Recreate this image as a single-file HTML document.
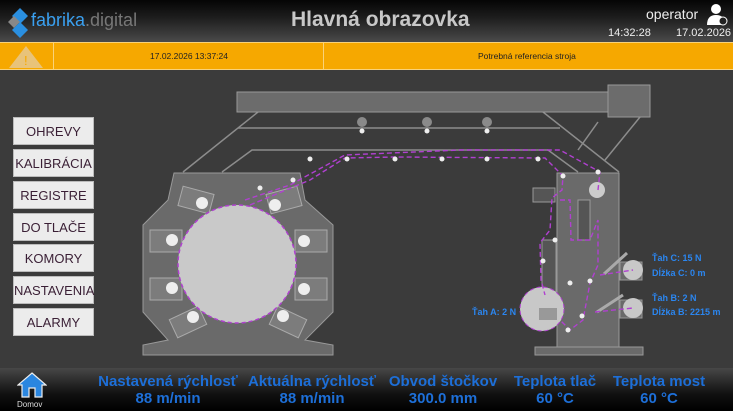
<!DOCTYPE html>
<html><head><meta charset="utf-8"><style>
*{margin:0;padding:0;box-sizing:border-box}
body{width:733px;height:411px;overflow:hidden;background:#3b3b3b;font-family:"Liberation Sans",sans-serif;position:relative}
.top{position:absolute;left:0;top:0;width:733px;height:42px;background:linear-gradient(#050505,#1c1c1c 40%,#4a4a4a)}
.alarm{position:absolute;left:0;top:42px;width:733px;height:28px;background:#f6a800;border-top:1px solid #f9d27a;border-bottom:1px solid #f9d27a}
.btn{position:absolute;left:13px;width:81px;height:28px;background:#ececec;border:1px solid #bbb;color:#3a1f35;font-size:13px;text-align:center;line-height:27px;font-family:"Liberation Sans Narrow","Liberation Sans",sans-serif}
.foot{position:absolute;left:0;top:368px;width:733px;height:43px;background:linear-gradient(#474747,#111 60%,#000)}
.fl{position:absolute;color:#1d6fd8;font-weight:bold;font-size:15px;text-align:center;width:140px;line-height:17px;font-family:"Liberation Sans Narrow","Liberation Sans",sans-serif}
.lb{position:absolute;color:#2b86f0;font-weight:bold;font-size:9px}
</style></head><body>
<div class="top"></div>
<svg style="position:absolute;left:8px;top:8px" width="24" height="30"><polygon points="12,0 20,8 12,16 4,8" fill="#2a8fe0"/><polygon points="6,8 12,14 6,20 0,14" fill="#888"/><polygon points="12,14 20,22 12,30 4,22" fill="#2a8fe0"/></svg>
<div style="position:absolute;left:31px;top:10px;font-size:18px;color:#3aa0f0">fabrika<span style="color:#777">.digital</span></div>
<div style="position:absolute;left:291px;top:8px;font-size:21px;font-weight:bold;color:#c8c8c8;font-family:'Liberation Sans Narrow','Liberation Sans',sans-serif">Hlavná obrazovka</div>
<div style="position:absolute;left:646px;top:6px;font-size:14px;color:#eee;font-family:'Liberation Sans Narrow','Liberation Sans',sans-serif">operator</div>
<svg style="position:absolute;left:706px;top:3px" width="22" height="24"><circle cx="10" cy="6" r="5" fill="#fff"/><path d="M1 22 Q1 12 10 12 Q19 12 19 22Z" fill="#fff"/><circle cx="17" cy="18" r="4" fill="#222" stroke="#fff"/></svg>
<div style="position:absolute;left:608px;top:27px;font-size:11px;color:#eee">14:32:28</div>
<div style="position:absolute;left:676px;top:27px;font-size:11px;color:#eee">17.02.2026</div>
<div class="alarm"></div>
<div style="position:absolute;left:53px;top:43px;width:1px;height:27px;background:#f9d27a"></div>
<div style="position:absolute;left:323px;top:43px;width:1px;height:27px;background:#f9d27a"></div>
<svg style="position:absolute;left:8px;top:45px" width="36" height="24"><polygon points="18,1 35,23 1,23" fill="#e8c37a"/><text x="16" y="20" font-size="13" fill="#f6a800" font-family="Liberation Sans">!</text></svg>
<div style="position:absolute;left:150px;top:51px;font-size:8.5px;color:#222">17.02.2026 13:37:24</div>
<div style="position:absolute;left:478px;top:51px;font-size:8.5px;color:#222">Potrebná referencia stroja</div>
<div class="btn" style="top:117px">OHREVY</div>
<div class="btn" style="top:149px">KALIBRÁCIA</div>
<div class="btn" style="top:181px">REGISTRE</div>
<div class="btn" style="top:213px">DO TLAČE</div>
<div class="btn" style="top:244px">KOMORY</div>
<div class="btn" style="top:276px">NASTAVENIA</div>
<div class="btn" style="top:308px">ALARMY</div>
<svg style="position:absolute;left:0;top:0" width="733" height="411">
<g fill="none" stroke="#8c8c8c" stroke-width="1.5">
<polyline points="258,112 183,172"/><polyline points="238,128 560,128"/><polyline points="543,112 619,172"/>
<polyline points="222,172 252,150 548,150 578,172"/>
<line x1="578" y1="150" x2="598" y2="122"/><line x1="605" y1="160" x2="640" y2="117"/>
</g>
<rect x="237" y="92" width="372" height="20" fill="#6c6c6c" stroke="#999"/>
<rect x="608" y="85" width="42" height="32" fill="#6c6c6c" stroke="#999"/>
<g fill="#8a8a8a"><circle cx="362" cy="122" r="5"/><circle cx="427" cy="122" r="5"/><circle cx="487" cy="122" r="5"/></g>
<polygon points="174,173 300,173 305,200 333,225 333,312 305,340 333,345 333,355 143,355 143,345 168,340 143,312 143,225 168,200" fill="#6a6a6a" stroke="#999"/>
<g fill="#7c7c7c" stroke="#aaa"><rect x="180" y="190" width="32" height="20" transform="rotate(15 196 200)"/><rect x="268" y="190" width="32" height="20" transform="rotate(-15 284 200)"/><rect x="150" y="230" width="32" height="22"/><rect x="295" y="230" width="32" height="22"/><rect x="150" y="278" width="32" height="22"/><rect x="295" y="278" width="32" height="22"/><rect x="172" y="312" width="32" height="20" transform="rotate(-25 188 322)"/><rect x="272" y="312" width="32" height="20" transform="rotate(25 288 322)"/></g>
<g fill="#eee"><circle cx="202" cy="203" r="6"/><circle cx="275" cy="205" r="6"/><circle cx="172" cy="240" r="6"/><circle cx="304" cy="241" r="6"/><circle cx="172" cy="288" r="6"/><circle cx="304" cy="289" r="6"/><circle cx="193" cy="317" r="6"/><circle cx="283" cy="316" r="6"/></g>
<circle cx="237" cy="264" r="59" fill="#c9c9c9" stroke="#b040d0" stroke-width="1.5" stroke-dasharray="4 3"/>
<rect x="557" y="173" width="62" height="174" fill="#6a6a6a" stroke="#999"/>
<rect x="535" y="347" width="108" height="8" fill="#6a6a6a" stroke="#999"/>
<rect x="533" y="188" width="22" height="14" fill="#555" stroke="#999"/>
<rect x="542" y="240" width="14" height="60" fill="#555" stroke="#999"/>
<rect x="578" y="200" width="12" height="40" fill="#555" stroke="#999"/>
<circle cx="597" cy="190" r="8" fill="#ccc"/>
<circle cx="542" cy="309" r="22" fill="#c8c8c8" stroke="#b040d0" stroke-dasharray="4 3"/>
<rect x="539" y="308" width="18" height="12" fill="#999"/>
<rect x="620" y="262" width="22" height="18" fill="#6a6a6a" stroke="#999"/><circle cx="633" cy="270" r="10" fill="#c8c8c8"/>
<rect x="620" y="300" width="22" height="18" fill="#6a6a6a" stroke="#999"/><circle cx="633" cy="308" r="10" fill="#c8c8c8"/>
<line x1="604" y1="274" x2="627" y2="253" stroke="#aaa" stroke-width="3"/><line x1="597" y1="312" x2="623" y2="295" stroke="#aaa" stroke-width="3"/>
<g fill="none" stroke="#b040d0" stroke-width="1.4" stroke-dasharray="5 3">
<polyline points="245,200 290,185 345,155 460,150 560,150 600,172 598,190"/>
<polyline points="250,205 310,180 345,158 395,157 545,158 563,176 562,190 552,198 550,230 540,243 541,280 545,295"/>
<polyline points="560,200 570,200 571,240 590,240 598,220 598,265 590,283 583,320 570,330 560,320"/>
<polyline points="600,275 633,270"/><polyline points="595,312 633,308"/>
</g>
<g fill="#eee"><circle cx="362" cy="131" r="2.5"/><circle cx="427" cy="131" r="2.5"/><circle cx="487" cy="131" r="2.5"/><circle cx="310" cy="159" r="2.5"/><circle cx="347" cy="159" r="2.5"/><circle cx="395" cy="159" r="2.5"/><circle cx="442" cy="159" r="2.5"/><circle cx="487" cy="159" r="2.5"/><circle cx="538" cy="159" r="2.5"/><circle cx="260" cy="188" r="2.5"/><circle cx="293" cy="180" r="2.5"/><circle cx="563" cy="176" r="2.5"/><circle cx="598" cy="172" r="2.5"/><circle cx="555" cy="240" r="2.5"/><circle cx="543" cy="261" r="2.5"/><circle cx="570" cy="283" r="2.5"/><circle cx="590" cy="281" r="2.5"/><circle cx="582" cy="316" r="2.5"/><circle cx="568" cy="330" r="2.5"/></g>
</svg>
<div class="lb" style="left:652px;top:253px">Ťah C: 15 N</div>
<div class="lb" style="left:652px;top:268px">Dĺžka C: 0 m</div>
<div class="lb" style="left:652px;top:293px">Ťah B: 2 N</div>
<div class="lb" style="left:652px;top:307px">Dĺžka B: 2215 m</div>
<div class="lb" style="left:472px;top:307px">Ťah A: 2 N</div>
<div class="foot"></div>
<svg style="position:absolute;left:17px;top:372px" width="30" height="26"><polygon points="15,1 29,13 25,13 25,25 18,25 18,16 12,16 12,25 5,25 5,13 1,13" fill="#2a86e0" stroke="#eee" stroke-width="1.2"/></svg>
<div style="position:absolute;left:17px;top:400px;font-size:8px;color:#ddd">Domov</div>
<div class="fl" style="left:98px;top:373px">Nastavená rýchlosť<br>88 m/min</div>
<div class="fl" style="left:242px;top:373px">Aktuálna rýchlosť<br>88 m/min</div>
<div class="fl" style="left:373px;top:373px">Obvod štočkov<br>300.0 mm</div>
<div class="fl" style="left:485px;top:373px">Teplota tlač<br>60 °C</div>
<div class="fl" style="left:589px;top:373px">Teplota most<br>60 °C</div>
</body></html>
